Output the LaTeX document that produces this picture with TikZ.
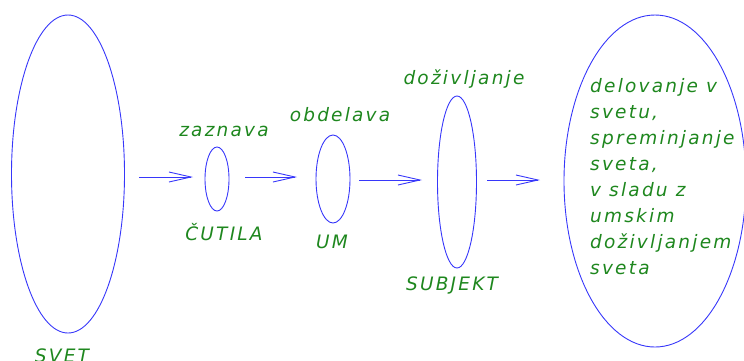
\documentclass[tikz,border=0pt]{standalone}
\usepackage{fontspec}
\setmainfont{DejaVu Sans}
\newfontfamily\lblfont[LetterSpace=12]{DejaVu Sans}
\usetikzlibrary{shapes.geometric,arrows.meta}
\definecolor{lineblue}{RGB}{55,55,250}
\definecolor{labelgreen}{RGB}{30,135,30}
\tikzset{
  stage/.style={ellipse, draw=lineblue, line width=0.9pt, inner sep=0pt},
  lbl/.style={text=labelgreen, font=\lblfont\fontsize{18.5}{26}\selectfont\itshape, inner sep=0pt},
  flow/.style={draw=lineblue, line width=0.9pt,
    -{Straight Barb[length=22pt,width=10pt,line width=0.9pt]}}
}
\begin{document}
\begin{tikzpicture}[x=1pt,y=-1pt]
\useasboundingbox (0,0) rectangle (744,360);
% stages of the process
\node[stage, minimum width=113pt, minimum height=318pt] (svet) at (68,174) {};
\node[stage, minimum width=24pt, minimum height=64pt] (cutila) at (217,179) {};
\node[stage, minimum width=34pt, minimum height=88pt] (um) at (333,179) {};
\node[stage, minimum width=39pt, minimum height=172pt] (subjekt) at (457,182) {};
\node[stage, minimum width=182pt, minimum height=332pt] (delo) at (655,181) {};
% labels
\node[lbl] (lsvet) at (62,356) {SVET};
\node[lbl] (lzaz) at (224,131) {zaznava};
\node[lbl] (lcut) at (224,232) {ČUTILA};
\node[lbl] (lobd) at (340,115) {obdelava};
\node[lbl] (lum) at (332,242) {UM};
\node[lbl] (ldoz) at (464,79) {doživljanje};
\node[lbl] (lsub) at (452,285) {SUBJEKT};
\node[lbl, align=left, anchor=north west] (ldelo) at (590,78) {delovanje v\\svetu,\\spreminjanje\\sveta,\\v sladu z\\umskim\\doživljanjem\\sveta};
% connectors
\coordinate (a1) at (139,177);
\coordinate (b1) at (193,177);
\coordinate (a2) at (245,177);
\coordinate (b2) at (297,177);
\coordinate (a3) at (359,180);
\coordinate (b3) at (422,180);
\coordinate (a4) at (487,180);
\coordinate (b4) at (540,180);
\draw[flow] (a1) -- (b1);
\draw[flow] (a2) -- (b2);
\draw[flow] (a3) -- (b3);
\draw[flow] (a4) -- (b4);
\end{tikzpicture}
\end{document}
